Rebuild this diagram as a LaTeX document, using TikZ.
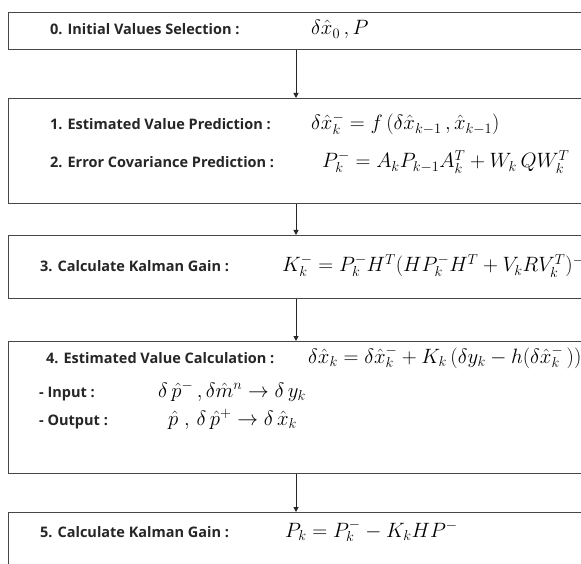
\documentclass[tikz,border=0pt]{standalone}
\usepackage{fontspec}
\setsansfont{Open Sans}
\usetikzlibrary{arrows.meta}
\newcommand\eqtight{\thickmuskip=5mu plus 2mu\relax\medmuskip=4mu plus 1mu\relax}
\begin{document}
\begin{tikzpicture}[x=1pt,y=-1pt,
  stage/.style={draw=black!72, line width=1.4pt, rectangle, inner sep=0pt, anchor=north west},
  lbl/.style={anchor=base west, font=\sffamily\bfseries\fontsize{14.5}{16}\selectfont, text=black!85, inner sep=0pt},
  eq/.style={anchor=base west, font=\fontsize{20.5}{23}\selectfont\eqtight, inner sep=0pt},
  eqs/.style={anchor=base west, font=\fontsize{19.5}{22}\selectfont\eqtight, inner sep=0pt},
  flow/.style={draw=black!85, line width=1pt, -{Triangle[length=5pt,width=5pt]}}]
\clip (0,0) rectangle (581,564);
\fill[white] (0,0) rectangle (581,564);
\coordinate (ax) at (296,0);
\node[stage, minimum width=590pt, minimum height=37pt] (b0) at (8,12) {};
\node[stage, minimum width=590pt, minimum height=105pt] (b1) at (8,98) {};
\node[stage, minimum width=590pt, minimum height=63pt] (b3) at (8,235) {};
\node[stage, minimum width=590pt, minimum height=132pt] (b4) at (8,341) {};
\node[stage, minimum width=590pt, minimum height=70pt] (b5) at (8,512) {};
\draw[flow] (b0.south -| ax) -- (b1.north -| ax);
\draw[flow] (b1.south -| ax) -- (b3.north -| ax);
\draw[flow] (b3.south -| ax) -- (b4.north -| ax);
\draw[flow] (b4.south -| ax) -- (b5.north -| ax);
\node[lbl] (t0) at (50,35) {0. Initial Values Selection :};
\node[eq] (e0) at (311,35) {$\delta\hat{x}_0\,, P$};
\node[lbl] (t1) at (50,130) {1. Estimated Value Prediction :};
\node[eq] (e1) at (311,130) {$\delta\hat{x}_k^- = f\,(\delta\hat{x}_{k-1}\,, \hat{x}_{k-1})$};
\node[lbl] (t2) at (50,168) {2. Error Covariance Prediction :};
\node[eq] (e2) at (322,168) {$P_k^- = A_k P_{k-1} A_k^T + W_k\, Q W_k^T$};
\node[lbl] (t3) at (40,272) {3. Calculate Kalman Gain :};
\node[eqs] (e3) at (282,272) {$K_k^- = P_k^- H^T (H P_k^- H^T + V_k R V_k^T)^{-1}$};
\node[lbl] (t4) at (46,363) {4. Estimated Value Calculation :};
\node[eq] (e4) at (308,363) {$\delta\hat{x}_k = \delta\hat{x}_k^- + K_k\,(\delta y_k - h(\delta\hat{x}_k^-\,))$};
\node[lbl] (t4a) at (39,397) {- Input :};
\node[eq] (e4a) at (158,397) {$\delta\,\hat{p}^-\,, \delta\hat{m}^n \rightarrow \delta\, y_k$};
\node[lbl] (t4b) at (39,425) {- Output :};
\node[eq] (e4b) at (168,425) {$\hat{p}\;,\, \delta\,\hat{p}^+ \rightarrow \delta\,\hat{x}_k$};
\node[lbl] (t5) at (40,537) {5. Calculate Kalman Gain :};
\node[eq] (e5) at (285,537) {$P_k = P_k^- - K_k H P^-$};
\end{tikzpicture}
\end{document}
